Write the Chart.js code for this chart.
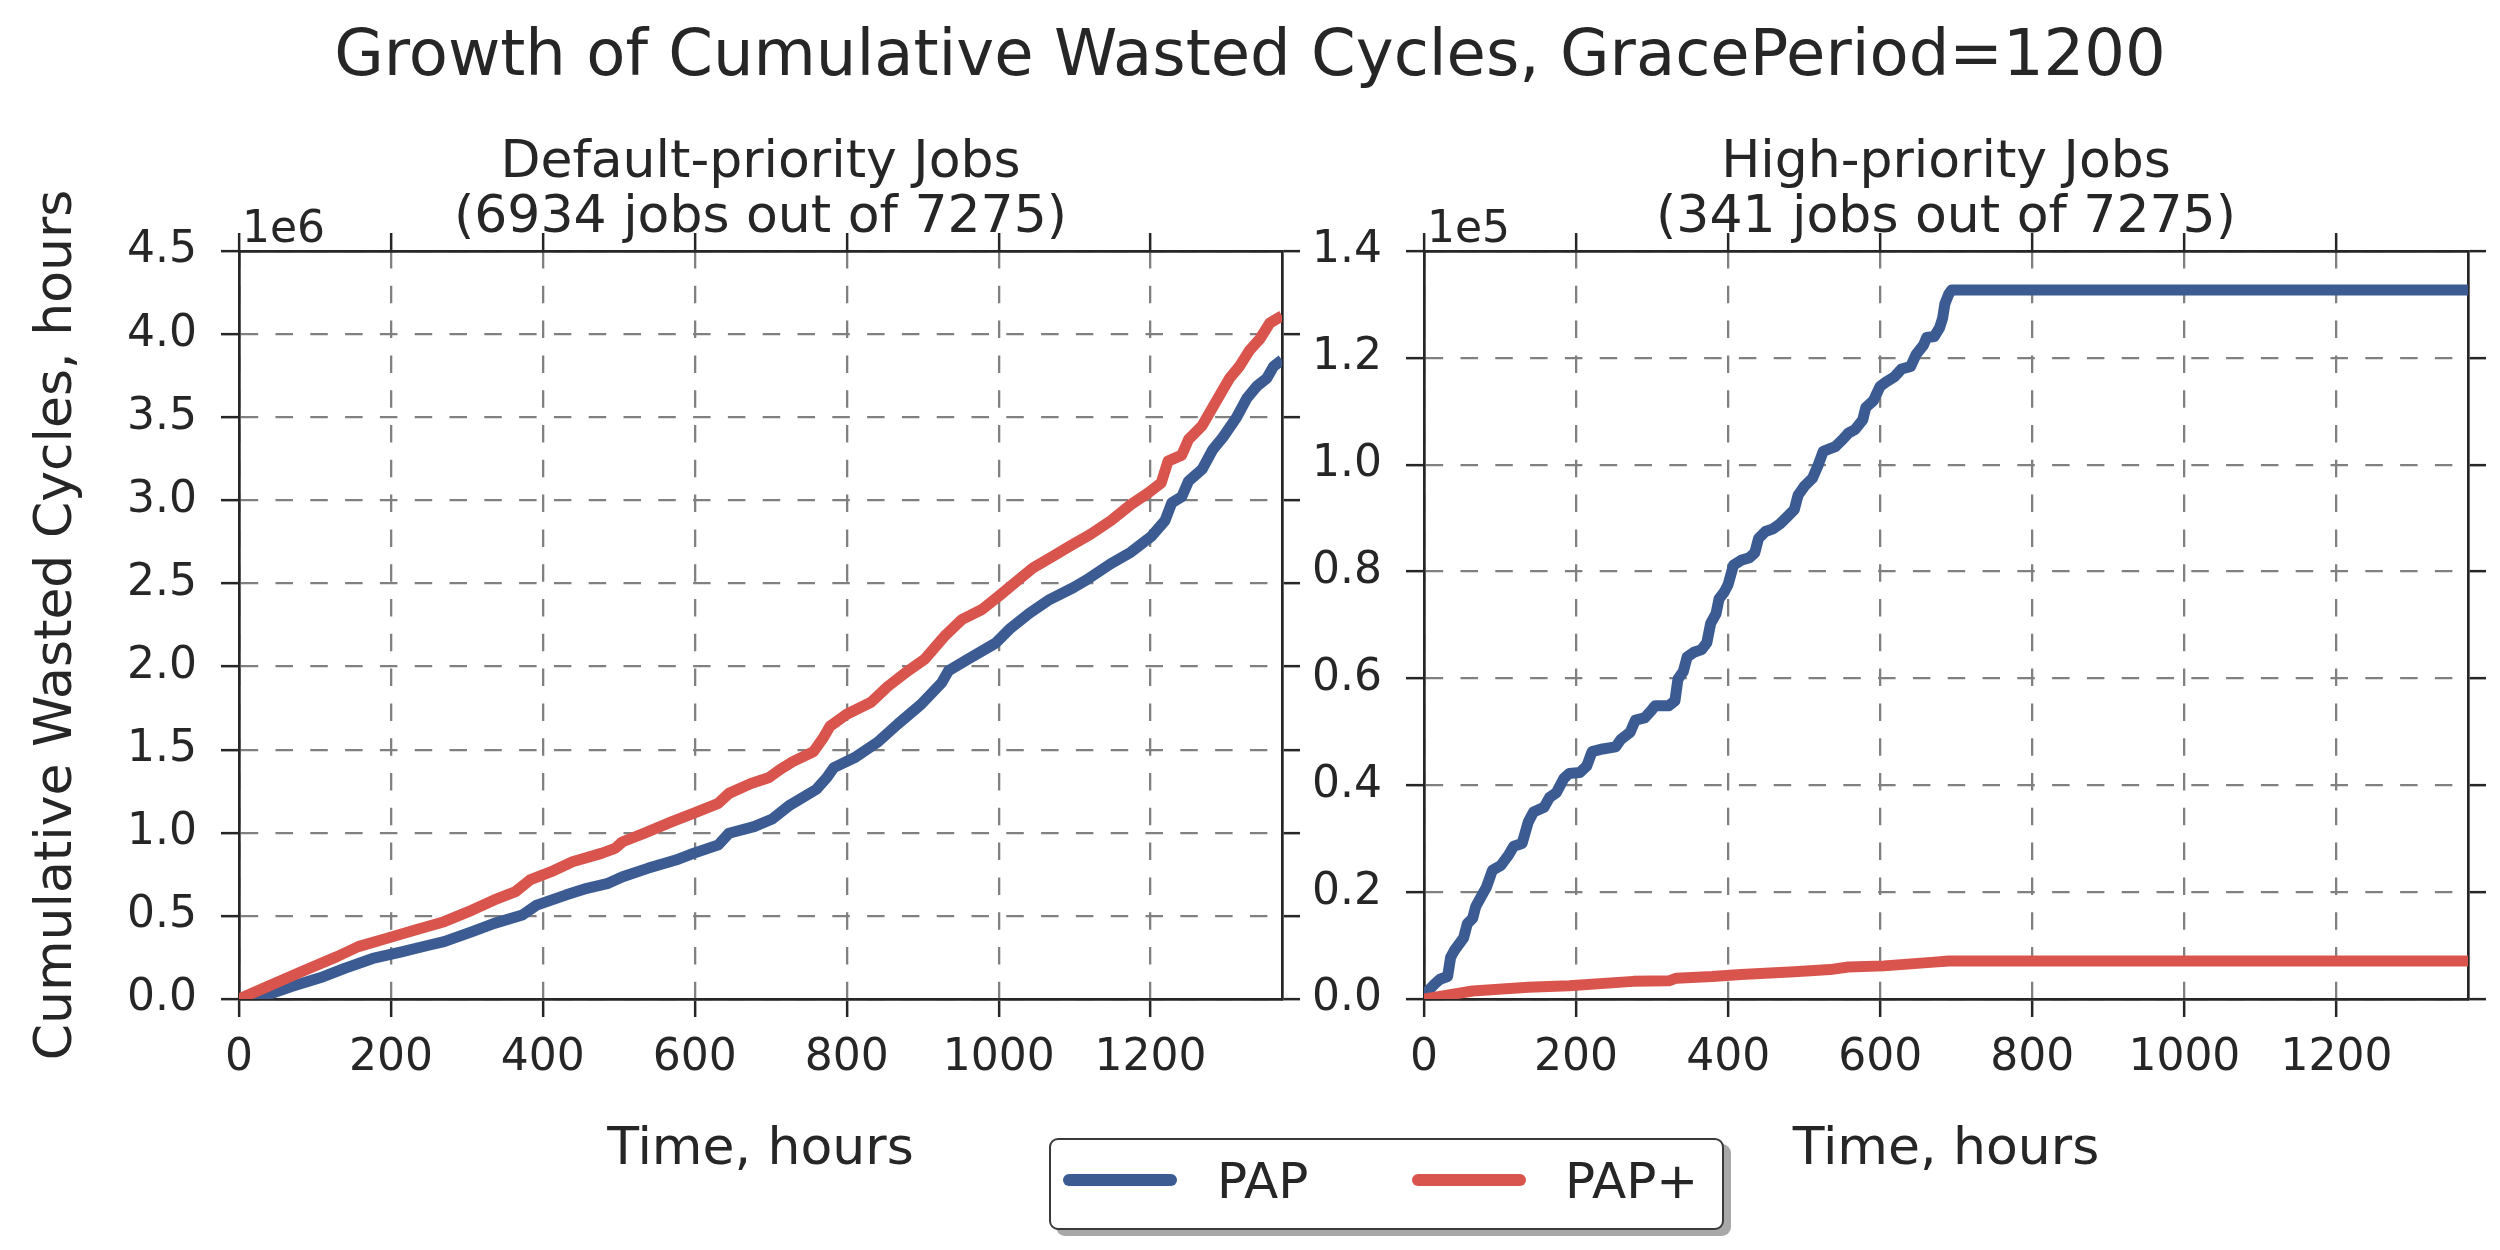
<!DOCTYPE html>
<html>
<head>
<meta charset="utf-8">
<script src="https://cdn.jsdelivr.net/npm/chart.js@4.4.1/dist/chart.umd.min.js"></script>
<style>
  html, body { margin: 0; padding: 0; background: #ffffff; }
  body { width: 2500px; height: 1250px; position: relative; overflow: hidden;
         font-family: "DejaVu Sans", sans-serif; color: #262626; }
  #c1 { position: absolute; left: 0; top: 0; }
  #c2 { position: absolute; left: 1290px; top: 0; }
  #suptitle { position: absolute; left: 0; top: 21px; width: 2500px; text-align: center;
              font-size: 64px; line-height: 64px; white-space: nowrap; }
  #legend { position: absolute; left: 1049px; top: 1138px; width: 675px; height: 92px;
            box-sizing: border-box; border: 2px solid #3a3a3a; border-radius: 9px;
            background: #fff; box-shadow: 7px 6px 0 #a8a8a8; }
  .swatch { position: absolute; height: 12px; border-radius: 6px; }
  .ltext { position: absolute; font-size: 50px; line-height: 50px; white-space: nowrap; }
</style>
</head>
<body>
<div id="suptitle">Growth of Cumulative Wasted Cycles, GracePeriod=1200</div>
<canvas id="c1" width="1320" height="1250"></canvas>
<canvas id="c2" width="1210" height="1250"></canvas>
<div id="legend"></div>
<script>
// ---------------- DATA ----------------
const seriesNames = ['PAP', 'PAP+'];
const seriesColors = ['#3b5b92', '#d9544d'];

const hoursMax = 1373;
const xTickValues = [0, 200, 400, 600, 800, 1000, 1200];

// Default-priority jobs, values in units of 1e6 hours
const defaultYTicks = [0, 0.5, 1.0, 1.5, 2.0, 2.5, 3.0, 3.5, 4.0, 4.5];
const defaultPapHours = [0, 25, 68, 111, 139, 176, 214, 251, 270, 307, 336, 373, 392, 430, 458, 486, 505, 538, 575, 598, 631, 645, 678, 702, 725, 760, 774, 783, 810, 841, 867, 898, 925, 934, 960, 996, 1014, 1040, 1067, 1098, 1116, 1147, 1174, 1201, 1219, 1228, 1241, 1250, 1268, 1282, 1295, 1313, 1327, 1340, 1353, 1362, 1373];
const defaultPapValues = [0, 0.005, 0.074, 0.134, 0.184, 0.244, 0.284, 0.325, 0.345, 0.405, 0.455, 0.505, 0.565, 0.625, 0.666, 0.696, 0.736, 0.786, 0.836, 0.876, 0.927, 0.997, 1.037, 1.083, 1.166, 1.261, 1.333, 1.392, 1.451, 1.546, 1.653, 1.773, 1.903, 1.975, 2.046, 2.141, 2.224, 2.319, 2.403, 2.474, 2.522, 2.617, 2.688, 2.783, 2.878, 2.986, 3.021, 3.116, 3.188, 3.306, 3.378, 3.497, 3.616, 3.687, 3.735, 3.806, 3.845];
const defaultPapPlusHours = [0, 35, 82, 129, 157, 195, 232, 270, 307, 336, 364, 383, 411, 439, 477, 495, 505, 533, 570, 598, 631, 645, 674, 698, 712, 729, 756, 769, 778, 800, 832, 854, 881, 903, 930, 952, 978, 1001, 1023, 1045, 1072, 1094, 1121, 1148, 1174, 1197, 1214, 1223, 1241, 1250, 1268, 1286, 1304, 1317, 1330, 1344, 1357, 1373];
const defaultPapPlusValues = [0, 0.070, 0.164, 0.255, 0.315, 0.365, 0.415, 0.465, 0.535, 0.596, 0.646, 0.716, 0.766, 0.826, 0.876, 0.906, 0.946, 0.997, 1.067, 1.117, 1.177, 1.237, 1.297, 1.333, 1.380, 1.428, 1.487, 1.570, 1.641, 1.713, 1.785, 1.880, 1.975, 2.046, 2.189, 2.284, 2.343, 2.427, 2.510, 2.593, 2.665, 2.725, 2.796, 2.879, 2.974, 3.045, 3.105, 3.236, 3.272, 3.367, 3.450, 3.593, 3.735, 3.806, 3.901, 3.972, 4.067, 4.110];

// High-priority jobs, values in units of 1e5 hours
const highYTicks = [0, 0.2, 0.4, 0.6, 0.8, 1.0, 1.2, 1.4];
const highPapHours = [0, 2, 14, 21, 31, 35, 40, 52, 57, 64, 68, 75, 82, 90, 101, 111, 118, 129, 137, 144, 158, 165, 174, 184, 191, 205, 214, 221, 235, 252, 259, 271, 278, 290, 299, 304, 322, 330, 334, 341, 346, 355, 365, 372, 377, 384, 388, 395, 400, 407, 417, 428, 435, 440, 449, 459, 468, 478, 487, 492, 501, 511, 518, 525, 534, 541, 551, 558, 567, 577, 581, 591, 600, 609, 619, 628, 640, 647, 657, 661, 671, 678, 682, 685, 690, 694, 1373];
const highPapValues = [0, 0.010, 0.028, 0.037, 0.042, 0.078, 0.091, 0.114, 0.141, 0.151, 0.173, 0.191, 0.209, 0.241, 0.250, 0.269, 0.286, 0.291, 0.331, 0.350, 0.359, 0.377, 0.386, 0.413, 0.422, 0.424, 0.436, 0.463, 0.468, 0.472, 0.486, 0.499, 0.522, 0.526, 0.540, 0.549, 0.549, 0.558, 0.599, 0.613, 0.640, 0.649, 0.654, 0.667, 0.703, 0.721, 0.749, 0.762, 0.776, 0.812, 0.821, 0.826, 0.835, 0.862, 0.875, 0.880, 0.889, 0.903, 0.916, 0.943, 0.961, 0.975, 0.998, 1.025, 1.030, 1.034, 1.048, 1.059, 1.066, 1.084, 1.107, 1.120, 1.147, 1.156, 1.165, 1.179, 1.184, 1.206, 1.224, 1.238, 1.240, 1.256, 1.274, 1.301, 1.319, 1.327, 1.327];
const highPapPlusHours = [0, 64, 137, 191, 275, 322, 332, 379, 417, 487, 534, 558, 605, 671, 690, 1373];
const highPapPlusValues = [0, 0.015, 0.022, 0.025, 0.033, 0.034, 0.039, 0.042, 0.046, 0.051, 0.055, 0.060, 0.062, 0.069, 0.071, 0.071];

// ---------------- STYLE ----------------
const TEXT = '#262626';
const GRID = '#808080';
const TICK_LEN = 18;
const FONT = '"DejaVu Sans", sans-serif';
Chart.defaults.font.family = FONT;
Chart.defaults.color = TEXT;

const annotPlugin = {
  id: 'annot',
  afterDraw(chart, args, opts) {
    const { ctx, chartArea: a } = chart;
    ctx.save();
    ctx.fillStyle = TEXT;
    ctx.textBaseline = 'alphabetic';
    ctx.font = '52px ' + FONT;
    ctx.textAlign = 'center';
    const cx = (a.left + a.right) / 2;
    ctx.fillText(opts.lines[0], cx, a.top - 74);
    ctx.fillText(opts.lines[1], cx, a.top - 19);
    ctx.font = '44px ' + FONT;
    ctx.textAlign = 'left';
    ctx.fillText(opts.offset, a.left + 3, a.top - 9);
    ctx.restore();
  }
};

function gridOpts(onArea) {
  return { display: true, color: GRID, lineWidth: 2.3, drawOnChartArea: onArea, drawTicks: true,
           tickLength: TICK_LEN, tickColor: TEXT, tickWidth: 2.5, tickBorderDash: [] };
}
const borderOpts = { display: true, color: TEXT, width: 2.7, dash: [17.5, 17.3] };

function buildChart(id, cfg) {
  const setX = s => { s.ticks = xTickValues.map(v => ({ value: v })); };
  const setY = s => { s.ticks = cfg.yTicks.map(v => ({ value: v * cfg.unit })); };
  const mk = (hours, vals) => hours.map((h, i) => ({ x: h, y: vals[i] * cfg.unit }));
  const datasets = cfg.series.map((s, i) => ({
    label: seriesNames[i],
    data: mk(s.hours, s.values),
    borderColor: seriesColors[i],
    backgroundColor: seriesColors[i],
    borderWidth: 11,
    pointRadius: 0,
    tension: 0,
    borderJoinStyle: 'round',
    borderCapStyle: 'butt',
    fill: false,
    clip: 0,
    order: 2 - i
  }));
  return new Chart(document.getElementById(id), {
    type: 'line',
    data: { datasets },
    plugins: [annotPlugin],
    options: {
      responsive: false,
      animation: false,
      events: [],
      layout: { autoPadding: false, padding: { left: 0, top: 233, right: cfg.padRight, bottom: 0 } },
      plugins: {
        legend: { display: false },
        title: { display: false },
        tooltip: { enabled: false },
        annot: { lines: cfg.titleLines, offset: cfg.offsetText }
      },
      scales: {
        x: {
          type: 'linear', position: 'bottom', min: 0, max: hoursMax,
          afterBuildTicks: setX,
          afterFit: s => { s.height = 251; },
          ticks: { display: true, font: { size: 44 }, color: TEXT, padding: 15, maxRotation: 0,
                   callback: v => String(v) },
          grid: gridOpts(true), border: borderOpts,
          title: { display: true, text: 'Time, hours', font: { size: 52 }, color: TEXT,
                   padding: { top: 0, bottom: 68 } }
        },
        xTop: {
          type: 'linear', position: 'top', min: 0, max: hoursMax,
          afterBuildTicks: setX,
          afterFit: s => { s.height = TICK_LEN; },
          ticks: { display: false },
          grid: gridOpts(false), border: borderOpts
        },
        y: {
          type: 'linear', position: 'left', min: 0, max: cfg.yMax * cfg.unit,
          afterBuildTicks: setY,
          afterFit: s => { s.width = cfg.yWidth; },
          ticks: { display: true, font: { size: 44 }, color: TEXT, padding: 24,
                   callback: v => (v / cfg.unit).toFixed(1) },
          grid: gridOpts(true), border: borderOpts,
          title: { display: !!cfg.yTitle, text: cfg.yTitle || '', font: { size: 52 }, color: TEXT,
                   padding: { top: 26, bottom: 0 } }
        },
        yRight: {
          type: 'linear', position: 'right', min: 0, max: cfg.yMax * cfg.unit,
          afterBuildTicks: setY,
          afterFit: s => { s.width = TICK_LEN; },
          ticks: { display: false },
          grid: gridOpts(false), border: borderOpts
        }
      }
    }
  });
}

buildChart('c1', {
  unit: 1e6, yMax: 4.5, yTicks: defaultYTicks, yWidth: 239, padRight: 20,
  yTitle: 'Cumulative Wasted Cycles, hours',
  titleLines: ['Default-priority Jobs', '(6934 jobs out of 7275)'], offsetText: '1e6',
  series: [
    { hours: defaultPapHours, values: defaultPapValues },
    { hours: defaultPapPlusHours, values: defaultPapPlusValues }
  ]
});

buildChart('c2', {
  unit: 1e5, yMax: 1.4, yTicks: highYTicks, yWidth: 134, padRight: 14,
  yTitle: null,
  titleLines: ['High-priority Jobs', '(341 jobs out of 7275)'], offsetText: '1e5',
  series: [
    { hours: highPapHours, values: highPapValues },
    { hours: highPapPlusHours, values: highPapPlusValues }
  ]
});

// ---------------- LEGEND (HTML) ----------------
const legendItems = [
  { swatchLeft: 1063, textLeft: 1217 },
  { swatchLeft: 1412, textLeft: 1565 }
];
seriesNames.forEach((name, i) => {
  const sw = document.createElement('div');
  sw.className = 'swatch';
  sw.style.left = legendItems[i].swatchLeft + 'px';
  sw.style.top = '1174px';
  sw.style.width = '114px';
  sw.style.background = seriesColors[i];
  document.body.appendChild(sw);
  const t = document.createElement('div');
  t.className = 'ltext';
  t.style.left = legendItems[i].textLeft + 'px';
  t.style.top = '1156px';
  t.textContent = name;
  document.body.appendChild(t);
});
</script>
</body>
</html>
